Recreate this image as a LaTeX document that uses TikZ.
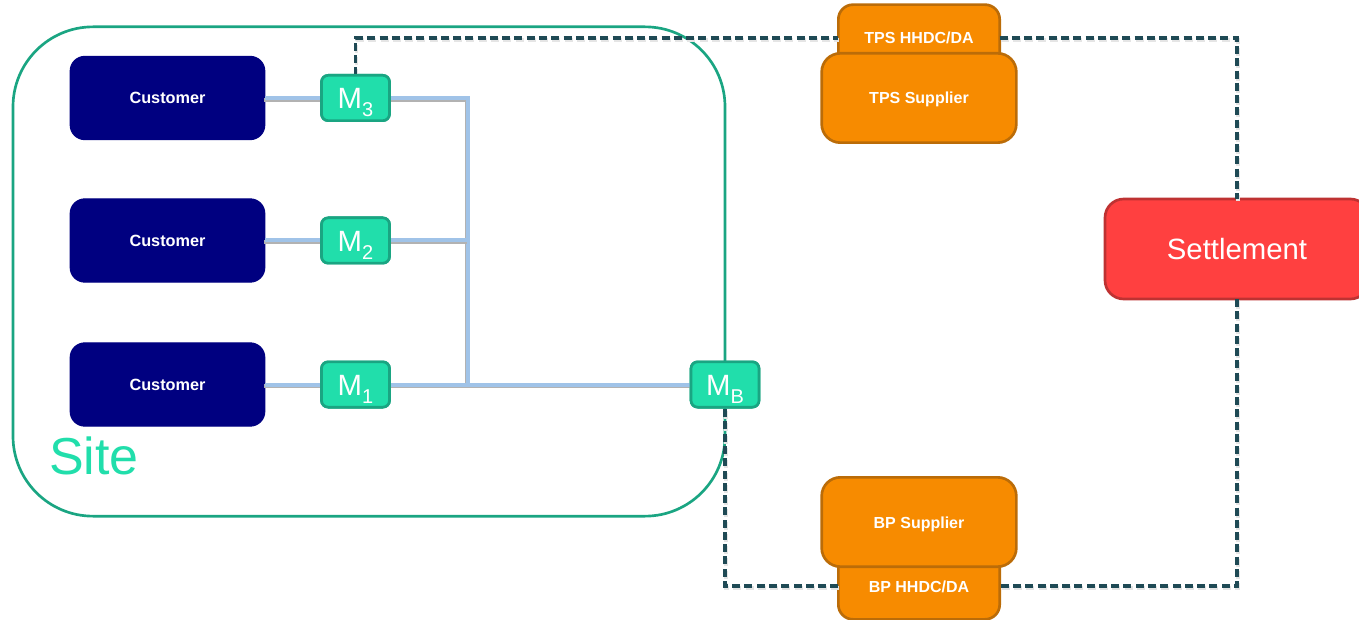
\documentclass[tikz,border=0pt]{standalone}
\usepackage{fontspec}
\setmainfont{Liberation Sans}
\definecolor{teal1}{HTML}{21DEAB}
\definecolor{teal2}{HTML}{1AA582}
\definecolor{navy1}{HTML}{000080}
\definecolor{orange1}{HTML}{F78B00}
\definecolor{orange2}{HTML}{BB6C08}
\definecolor{red1}{HTML}{FF4040}
\definecolor{red2}{HTML}{BE3232}
\definecolor{dash1}{HTML}{1F4A55}
\definecolor{blue1}{HTML}{A0C3E8}
\newcommand{\mlabel}[1]{\raisebox{-8pt}[0pt][0pt]{\fontsize{22}{22}\selectfont M\raisebox{-6pt}[0pt][0pt]{\fontsize{15}{15}\selectfont #1}}}
\newcommand{\droptext}[2]{\raisebox{-#1pt}[0pt][0pt]{#2}}
\newcommand{\powerlink}[1]{\draw[powershadow] #1; \draw[power] #1;}
\newcommand{\datalinkto}[1]{\draw[datashadow] #1; \draw[datalink] #1;}
\tikzset{
  x=0.75pt,y=-0.75pt,
  box/.style={rectangle,inner sep=0pt,outer sep=0pt,text=white,align=center},
  custbox/.style={box,fill=navy1,draw=navy1,line width=0.75pt,rounded corners=11pt,minimum width=146pt,minimum height=62.5pt,font=\fontsize{12.2}{14}\selectfont\bfseries},
  meter/.style={box,fill=teal1,draw=teal2,line width=2pt,rounded corners=5pt,minimum width=51pt,minimum height=34pt},
  orangebox/.style={box,fill=orange1,draw=orange2,line width=2pt,rounded corners=14pt,font=\fontsize{12}{14}\selectfont\bfseries},
  supplier/.style={orangebox,minimum width=146pt,minimum height=67pt},
  agent/.style={orangebox,rounded corners=11pt,minimum width=121pt,minimum height=50pt},
  settle/.style={box,fill=red1,draw=red2,line width=2pt,rounded corners=14pt,minimum width=198pt,minimum height=75pt,font=\fontsize{22}{26}\selectfont},
  sitebox/.style={rectangle,draw=teal2,line width=2pt,rounded corners=60pt,minimum width=534pt,minimum height=367pt,inner sep=0pt},
  power/.style={draw=blue1,line width=3pt},
  powershadow/.style={draw=black!30,line width=3pt,transform canvas={xshift=-0.8pt,yshift=-1.2pt}},
  datalink/.style={draw=dash1,line width=2.6pt,dash pattern=on 6pt off 3.2pt},
  datashadow/.style={draw=black!10,line width=2.6pt,dash pattern=on 6pt off 3.2pt,transform canvas={xshift=0.8pt,yshift=-1.5pt}},
}
\begin{document}
\begin{tikzpicture}
\useasboundingbox (0,0) rectangle (1359,620);
\node[sitebox] (site) at (369,271.5) {};
\node[text=teal1,font=\fontsize{39}{41}\selectfont,inner sep=0pt] (sitelabel) at (94,456) {Site};
\node[custbox] (c3) at (167.5,98) {Customer};
\node[custbox] (c2) at (167.5,240.5) {Customer};
\node[custbox] (c1) at (167.5,384.5) {Customer};
\coordinate (bus) at (468,384);
\node[meter] (m3) at (355.5,98) {};
\node[meter] (m2) at (355.5,240.5) {};
\node[meter] (m1) at (355.5,384.5) {};
\node[meter] (mb) at (725,384.5) {};
\node[agent] (tpsh) at (919,38) {\droptext{3.9}{TPS HHDC/DA}};
\node[agent] (bph) at (919,586) {\droptext{4.5}{BP HHDC/DA}};
\node[settle] (set) at (1237,249) {Settlement};
\powerlink{(c3.east) -- (m3.west)}
\powerlink{(c2.east) -- (m2.west)}
\powerlink{(c1.east) -- (m1.west)}
\powerlink{(m3.east) -| (bus)}
\powerlink{(m2.east) -- (m2.east -| bus)}
\powerlink{(m1.east) -- (mb.west)}
\datalinkto{(m3.north) |- (tpsh.west)}
\datalinkto{(tpsh.east) -| (set.north)}
\datalinkto{(set.south) |- (bph.east)}
\datalinkto{(bph.west) -| (mb.south)}
\node[meter] at (m3) {\mlabel{3}};
\node[meter] at (m2) {\mlabel{2}};
\node[meter] at (m1) {\mlabel{1}};
\node[meter] at (mb) {\mlabel{B}};
\node[supplier] (tpss) at (919,98) {\droptext{3.9}{TPS Supplier}};
\node[supplier] (bps) at (919,522) {\droptext{4.5}{BP Supplier}};
\end{tikzpicture}
\end{document}
